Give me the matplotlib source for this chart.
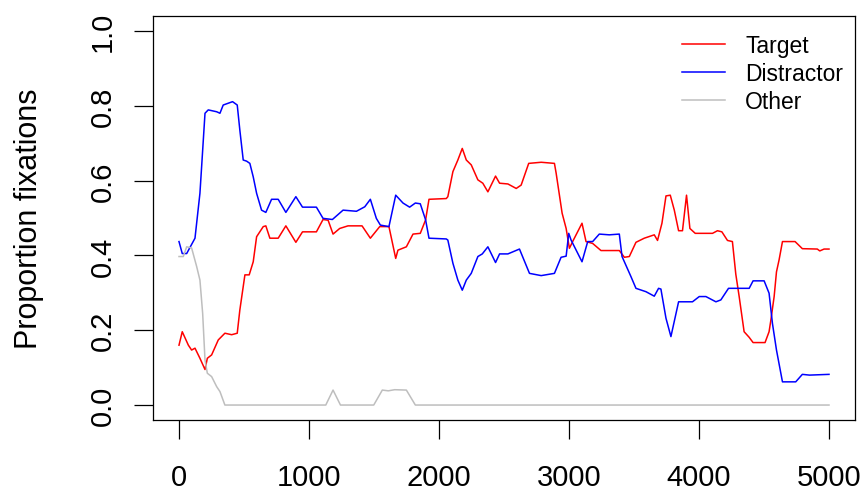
import matplotlib
matplotlib.use("Agg")
import matplotlib.pyplot as plt

matplotlib.rcParams['font.family'] = ['Liberation Sans', 'DejaVu Sans']

# time (ms) and proportion of fixations per area of interest
target_t = [0, 25, 72, 97, 123, 161, 200, 218, 251, 302, 353, 405, 448, 468, 507, 540,
            571, 597, 648, 668, 699, 763, 822, 899, 950, 1057, 1108, 1147, 1185, 1236,
            1300, 1408, 1472, 1544, 1615, 1667, 1684, 1749, 1800, 1856, 1897, 1923, 2056,
            2068, 2107, 2145, 2179, 2210, 2248, 2299, 2337, 2376, 2435, 2466, 2530, 2594,
            2632, 2690, 2786, 2888, 2901, 2947, 2978, 3003, 3028, 3100, 3131, 3182, 3246,
            3387, 3426, 3464, 3515, 3579, 3656, 3681, 3715, 3746, 3779, 3810, 3843, 3873,
            3904, 3930, 3971, 4104, 4142, 4176, 4219, 4257, 4283, 4309, 4347, 4386, 4416,
            4508, 4539, 4552, 4578, 4596, 4616, 4642, 4739, 4795, 4910, 4929, 4962, 5000]
target_p = [0.160, 0.196, 0.160, 0.147, 0.152, 0.125, 0.095, 0.125, 0.134, 0.174, 0.192,
            0.188, 0.192, 0.254, 0.348, 0.348, 0.383, 0.450, 0.477, 0.479, 0.446, 0.446,
            0.479, 0.435, 0.463, 0.463, 0.496, 0.494, 0.457, 0.472, 0.479, 0.479, 0.446,
            0.477, 0.477, 0.392, 0.414, 0.423, 0.457, 0.459, 0.495, 0.550, 0.552, 0.557,
            0.624, 0.655, 0.686, 0.655, 0.642, 0.602, 0.593, 0.570, 0.612, 0.593, 0.591,
            0.579, 0.588, 0.646, 0.649, 0.646, 0.620, 0.513, 0.472, 0.419, 0.437, 0.486,
            0.437, 0.432, 0.413, 0.413, 0.395, 0.397, 0.435, 0.446, 0.455, 0.440, 0.486,
            0.559, 0.561, 0.521, 0.466, 0.466, 0.561, 0.472, 0.459, 0.459, 0.466, 0.463,
            0.440, 0.437, 0.350, 0.290, 0.196, 0.181, 0.167, 0.167, 0.196, 0.225, 0.290,
            0.356, 0.388, 0.437, 0.437, 0.418, 0.417, 0.412, 0.417, 0.417]

distractor_t = [0, 25, 59, 123, 161, 174, 200, 225, 290, 315, 340, 412, 448, 468, 494, 520,
                545, 571, 597, 635, 668, 712, 763, 822, 899, 950, 1057, 1108, 1180, 1262,
                1365, 1429, 1472, 1518, 1549, 1615, 1667, 1723, 1774, 1818, 1856, 1897,
                1923, 2056, 2068, 2107, 2145, 2179, 2210, 2248, 2299, 2333, 2376, 2435,
                2466, 2530, 2619, 2696, 2786, 2888, 2939, 2978, 2998, 3016, 3100, 3144,
                3182, 3233, 3310, 3387, 3408, 3477, 3515, 3592, 3656, 3689, 3707, 3746,
                3784, 3843, 3950, 4002, 4053, 4130, 4168, 4227, 4386, 4416, 4501, 4539,
                4565, 4596, 4642, 4744, 4795, 4850, 5000]
distractor_p = [0.437, 0.405, 0.405, 0.446, 0.566, 0.637, 0.780, 0.789, 0.784, 0.780,
                0.802, 0.811, 0.802, 0.735, 0.655, 0.652, 0.646, 0.610, 0.566, 0.521,
                0.515, 0.550, 0.550, 0.515, 0.557, 0.529, 0.529, 0.499, 0.496, 0.521,
                0.518, 0.530, 0.550, 0.499, 0.481, 0.477, 0.561, 0.540, 0.529, 0.540,
                0.538, 0.495, 0.446, 0.444, 0.441, 0.379, 0.334, 0.307, 0.334, 0.352,
                0.397, 0.404, 0.423, 0.381, 0.404, 0.404, 0.417, 0.352, 0.346, 0.352,
                0.395, 0.398, 0.459, 0.441, 0.383, 0.437, 0.437, 0.457, 0.455, 0.457,
                0.397, 0.343, 0.312, 0.303, 0.291, 0.312, 0.310, 0.232, 0.183, 0.276,
                0.276, 0.290, 0.290, 0.276, 0.281, 0.312, 0.312, 0.332, 0.332, 0.299,
                0.218, 0.147, 0.062, 0.062, 0.082, 0.080, 0.082]

other_t = [0, 33, 59, 97, 136, 161, 182, 200, 218, 251, 290, 315, 353, 1129, 1185, 1242,
           1498, 1564, 1610, 1659, 1749, 1818, 5000]
other_p = [0.397, 0.397, 0.423, 0.420, 0.370, 0.334, 0.245, 0.120, 0.085, 0.076, 0.049,
           0.036, 0.0, 0.0, 0.040, 0.0, 0.0, 0.040, 0.038, 0.041, 0.040, 0.0, 0.0]

x_ticks = [0, 1000, 2000, 3000, 4000, 5000]
y_ticks = [0.0, 0.2, 0.4, 0.6, 0.8, 1.0]

fig = plt.figure(figsize=(8.68, 5.02), dpi=100)
ax = fig.add_axes([153/868, 1 - 421/502, (855 - 153)/868, (421 - 17)/502])

ax.plot(target_t, target_p, color='#FF0000', lw=1.1, label='Target')
ax.plot(distractor_t, distractor_p, color='#0000FF', lw=1.1, label='Distractor')
ax.plot(other_t, other_p, color='#BEBEBE', lw=1.1, label='Other')

ax.set_xlim(-200, 5200)
ax.set_ylim(-0.04, 1.04)
ax.set_xticks(x_ticks)
ax.set_xticklabels([str(v) for v in x_ticks])
ax.set_yticks(y_ticks)
ax.set_yticklabels(['%.1f' % v for v in y_ticks])

for s in ax.spines.values():
    s.set_linewidth(0.9)
ax.tick_params(direction='out', length=14, width=0.9, labelsize=21)
ax.tick_params(axis='x', pad=17)
ax.tick_params(axis='y', pad=12, labelrotation=90)
for lab in ax.get_yticklabels():
    lab.set_va('center')

ax.set_ylabel('Proportion fixations', fontsize=22, labelpad=32)

ax.legend(loc='upper right', bbox_to_anchor=(0.983, 0.955), frameon=False,
          fontsize=16.5, handlelength=1.88, handletextpad=0.87, labelspacing=0.22,
          borderpad=0, borderaxespad=0)

plt.savefig('out.png', dpi=100)
